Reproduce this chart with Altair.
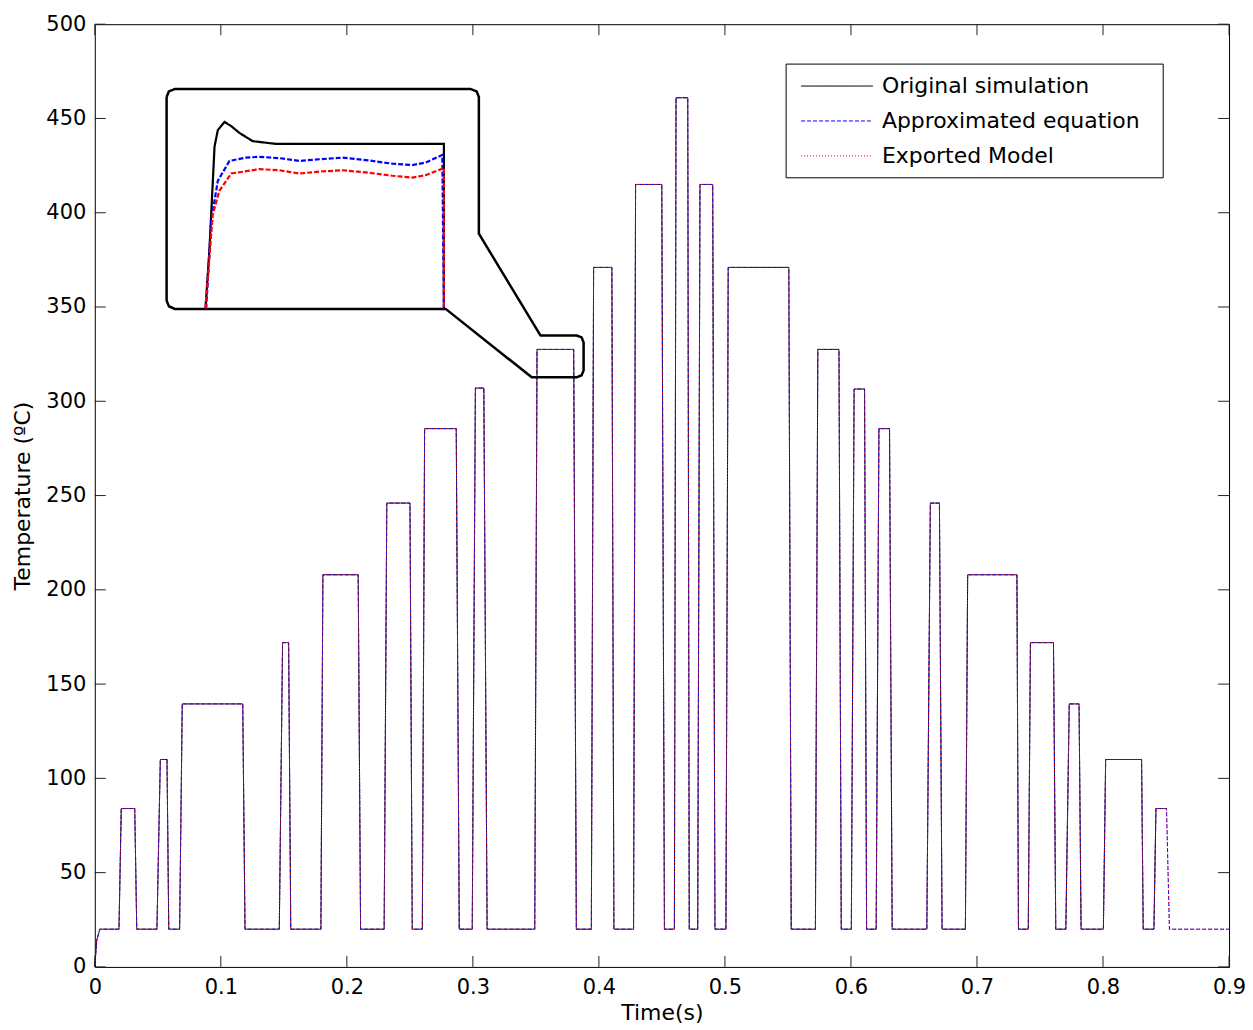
import altair as alt
import pandas as pd

# ---------------- data ----------------
series = ["Original simulation", "Approximated equation", "Exported Model"]
colors = ["#000000", "#0000ff", "#ff0000"]
dashes = [[1, 0], [4, 2], [1, 2]]

# initial warm-up from 0 to the 20 ºC baseline
start_t = [0.0, 0.0015, 0.004]
start_T = [0.0, 14.0, 20.0]
base_T = 20.0

# pulses: start of rise, top corner, start of fall, bottom corner, level
rise_t = [0.0192, 0.0493, 0.0673, 0.1464, 0.1794, 0.2296, 0.2599, 0.2995, 0.3491, 0.3940,
          0.4275, 0.4599, 0.4784, 0.5008, 0.5718, 0.6003, 0.6200, 0.6602, 0.6908, 0.7407,
          0.7705, 0.8003, 0.8404]
top_t = [0.0210, 0.0520, 0.0694, 0.1490, 0.1810, 0.2317, 0.2617, 0.3020, 0.3509, 0.3958,
         0.4291, 0.4612, 0.4802, 0.5026, 0.5737, 0.6025, 0.6222, 0.6630, 0.6926, 0.7424,
         0.7732, 0.8021, 0.8420]
fall_t = [0.0317, 0.0573, 0.1174, 0.1538, 0.2090, 0.2501, 0.2868, 0.3087, 0.3800, 0.4103,
          0.4499, 0.4705, 0.4903, 0.5507, 0.5905, 0.6108, 0.6306, 0.6702, 0.7317, 0.7607,
          0.7810, 0.8306, 0.8504]
back_t = [0.0333, 0.0587, 0.1192, 0.1555, 0.2109, 0.2519, 0.2892, 0.3113, 0.3821, 0.4119,
          0.4520, 0.4717, 0.4921, 0.5526, 0.5923, 0.6124, 0.6327, 0.6723, 0.7329, 0.7625,
          0.7826, 0.8319, 0.8527]
level = [84, 110, 139.5, 172, 208, 246, 285.5, 307, 327.5, 371,
         415, 461, 415, 371, 327.5, 306.5, 285.5, 246, 208, 172,
         139.5, 110, 84]
end_t = 0.9

# inset: magnified plateau of the 9th pulse
inset_black_t = [0.34913, 0.34965, 0.35030, 0.35072, 0.35159, 0.35245, 0.35352, 0.35524,
                 0.35826, 0.36169, 0.37998, 0.37998]
inset_black_T = [322.0, 324.2, 327.9, 328.5, 328.8, 328.65, 328.4, 328.1, 328.0, 328.0, 328.0, 322.0]
inset_blue_t = [0.34922, 0.34987, 0.35072, 0.35223, 0.35439, 0.35610, 0.35869, 0.36127, 0.36385,
                0.36686, 0.36988, 0.37331, 0.37589, 0.37762, 0.37977, 0.37998]
inset_blue_T = [322.0, 325.2, 326.65, 327.38, 327.50, 327.53, 327.48, 327.38, 327.44,
                327.50, 327.41, 327.28, 327.23, 327.32, 327.60, 322.0]
inset_red_t = [0.34913, 0.35007, 0.35093, 0.35245, 0.35610, 0.35869, 0.36127, 0.36385,
               0.36686, 0.36988, 0.37331, 0.37589, 0.37762, 0.37998, 0.37998]
inset_red_T = [322.0, 325.44, 326.29, 326.92, 327.08, 327.04, 326.92, 326.99,
               327.04, 326.96, 326.84, 326.77, 326.86, 327.12, 322.0]
inset_t_domain = [0.3441, 0.3845]
inset_T_domain = [322.0, 330.0]

# callout outline (magnifier box + pointer), in chart units
callout_t = [0.05699, 0.05881, 0.06333, 0.29842, 0.30293, 0.30476, 0.30476, 0.35360, 0.38233,
             0.38629, 0.38787, 0.38787, 0.38629, 0.38233, 0.34671, 0.27840, 0.06333, 0.05881,
             0.05699, 0.05699]
callout_T = [461.4, 464.4, 465.6, 465.6, 464.4, 461.4, 388.9, 334.9, 334.9,
             333.9, 331.2, 316.4, 313.8, 312.7, 312.7, 349.0, 349.0, 350.4,
             353.4, 461.4]

x_ticks = [0, 0.1, 0.2, 0.3, 0.4, 0.5, 0.6, 0.7, 0.8, 0.9]
y_ticks = [0, 50, 100, 150, 200, 250, 300, 350, 400, 450, 500]

# ---------------- build tables ----------------
def build_series(full):
    ts, Ts = list(start_t), list(start_T)
    n = len(level)
    for i in range(n):
        last = (i == n - 1)
        ts += [rise_t[i], top_t[i], fall_t[i]]
        Ts += [base_T, level[i], level[i]]
        if last and not full:
            break
        ts.append(back_t[i])
        Ts.append(base_T)
    if full:
        ts.append(end_t)
        Ts.append(base_T)
    return pd.DataFrame({"t": ts, "T": Ts, "i": range(len(ts))})

W, H = 1137, 945
FONT = "DejaVu Sans"

xscale = alt.Scale(domain=[0, 0.9], nice=False, zero=False)
yscale = alt.Scale(domain=[0, 500], nice=False, zero=False)

layers = []
for k, (name, col, dash) in enumerate(zip(series, colors, dashes)):
    df = build_series(full=(k != 0))
    enc = dict(order=alt.Order("i:Q"))
    if k == 0:
        enc["x"] = alt.X("t:Q", scale=xscale,
                         axis=alt.Axis(values=x_ticks, format=".1~f", title="Time(s)",
                                       domain=False, ticks=False, grid=False, labelPadding=10,
                                       labelFlush=False,
                                       titleY=53, titleBaseline="alphabetic"))
        enc["y"] = alt.Y("T:Q", scale=yscale,
                         axis=alt.Axis(values=y_ticks, format="d", title="Temperature (ºC)",
                                       domain=False, ticks=False, grid=False, labelPadding=9,
                                       labelFlush=False,
                                       titleX=-65, titleY=H / 2, titleBaseline="alphabetic"))
    else:
        enc["x"] = alt.X("t:Q", scale=xscale)
        enc["y"] = alt.Y("T:Q", scale=yscale)
    layers.append(
        alt.Chart(df).mark_line(color=col, strokeWidth=1, strokeDash=dash).encode(**enc)
    )

# callout outline
call_df = pd.DataFrame({"t": callout_t, "T": callout_T, "i": range(len(callout_t))})
layers.append(
    alt.Chart(call_df).mark_line(color="black", strokeWidth=2.5, strokeJoin="round").encode(
        x=alt.X("t:Q", scale=xscale), y=alt.Y("T:Q", scale=yscale), order=alt.Order("i:Q"))
)

# inward ticks on all four sides
xt = pd.DataFrame({"t": x_ticks})
yt = pd.DataFrame({"T": y_ticks})
TL = 11
layers.append(alt.Chart(xt).mark_rule(color="#222", strokeWidth=1).encode(
    x=alt.X("t:Q", scale=xscale), y=alt.value(H - TL), y2=alt.value(H)))
layers.append(alt.Chart(xt).mark_rule(color="#222", strokeWidth=1).encode(
    x=alt.X("t:Q", scale=xscale), y=alt.value(0), y2=alt.value(TL)))
layers.append(alt.Chart(yt).mark_rule(color="#222", strokeWidth=1).encode(
    y=alt.Y("T:Q", scale=yscale), x=alt.value(0), x2=alt.value(TL)))
layers.append(alt.Chart(yt).mark_rule(color="#222", strokeWidth=1).encode(
    y=alt.Y("T:Q", scale=yscale), x=alt.value(W - TL), x2=alt.value(W)))

# manual legend box
one = pd.DataFrame({"a": [0]})
LX0, LX1, LY0, LY1 = 693, 1071, 40, 154
layers.append(alt.Chart(one).mark_rect(fill="white", stroke="black", strokeWidth=1).encode(
    x=alt.value(LX0), x2=alt.value(LX1), y=alt.value(LY0), y2=alt.value(LY1)))
for k, (name, col, dash) in enumerate(zip(series, colors, dashes)):
    yy = 62 + 35 * k
    layers.append(alt.Chart(one).mark_rule(color=col, strokeWidth=1, strokeDash=dash).encode(
        x=alt.value(708), x2=alt.value(780), y=alt.value(yy)))
    layers.append(alt.Chart(one).mark_text(text=name, align="left", baseline="middle",
                                           fontSize=22, font=FONT, color="black").encode(
        x=alt.value(789), y=alt.value(yy)))

main = alt.layer(*layers)

# inset with its own scales placed inside the magnifier box
ixs = alt.Scale(domain=inset_t_domain, range=[72, 385], nice=False, zero=False)
iys = alt.Scale(domain=inset_T_domain, range=[285, 65], nice=False, zero=False)
inset_layers = []
for tt, TT, col, dash in [(inset_black_t, inset_black_T, "#000000", [1, 0]),
                          (inset_blue_t, inset_blue_T, "#0000ff", [5, 2]),
                          (inset_red_t, inset_red_T, "#ff0000", [5, 2])]:
    d = pd.DataFrame({"t": tt, "T": TT, "i": range(len(tt))})
    inset_layers.append(alt.Chart(d).mark_line(color=col, strokeWidth=2.2, strokeDash=dash).encode(
        x=alt.X("t:Q", scale=ixs, axis=None),
        y=alt.Y("T:Q", scale=iys, axis=None),
        order=alt.Order("i:Q")))
inset = alt.layer(*inset_layers)

chart = alt.layer(main, inset).resolve_scale(x="independent", y="independent").properties(
    width=W, height=H,
    autosize=alt.AutoSizeParams(type="none"),
    padding={"left": 87, "top": 15, "right": 16, "bottom": 58},
).configure_view(stroke="black", strokeWidth=1).configure_axis(
    labelFont=FONT, labelFontSize=21, labelColor="black",
    titleFont=FONT, titleFontSize=22, titleColor="black", titleFontWeight="normal",
)

chart.save("out.html", embed_options={"renderer": "svg", "actions": False})
